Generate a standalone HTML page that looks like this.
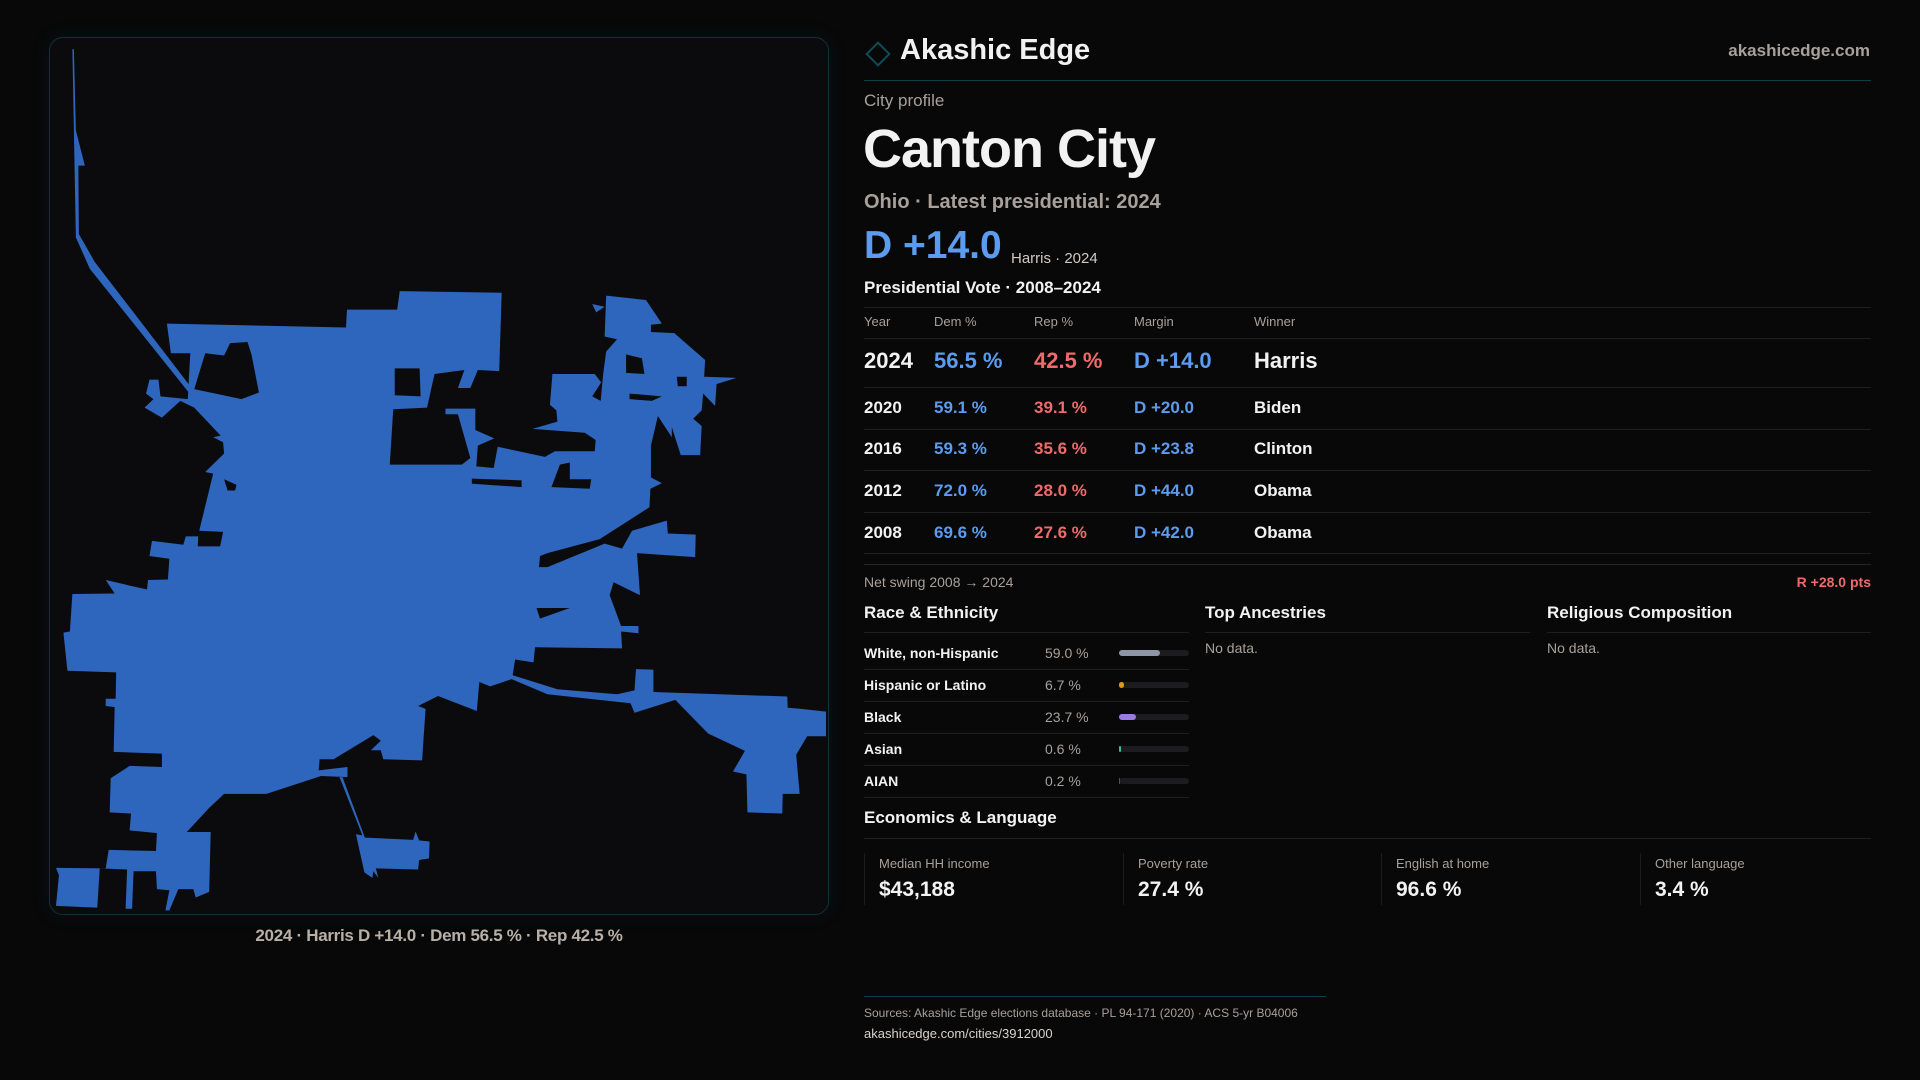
<!DOCTYPE html>
<html><head><meta charset="utf-8">
<style>
*{margin:0;padding:0;box-sizing:border-box}
body{width:1920px;height:1080px;background:#080808;font-family:"Liberation Sans",sans-serif;color:#f2f2f2;position:relative;overflow:hidden}
.a{position:absolute;white-space:nowrap}
.g{color:#a8a09a}
.b{color:#5b9cf0}
.r{color:#f06a6a}
.ln{position:absolute;height:1px;background:#1f1f22}
</style></head><body>

<div class="a" style="left:49px;top:37px;width:780px;height:878px;border:1px solid #11303a;border-radius:14px;background:#0b0b0d;box-shadow:0 0 18px rgba(20,90,110,0.15);overflow:hidden">
<svg width="780" height="878" viewBox="0 0 1568 1568" preserveAspectRatio="none">
<path fill="#2f66bd" fill-rule="evenodd" d="M235,510 L595,517 L597,485 L698,485 L703,452 L908,455 L903,595 L860,593 L845,625 L820,625 L833,593 L773,600 L758,660 L690,663 L683,762 L828,762 L845,750 L820,672 L795,672 L795,662 L855,662 L855,700 L893,715 L860,728 L857,765 L892,768 L900,730 L995,748 L1015,738 L1095,738 L1097,718 L1075,705 L970,698 L1020,685 L1018,665 L1005,655 L1010,600 L1095,600 L1108,615 L1090,640 L1107,648 L1112,600 L1118,560 L1140,538 L1115,533 L1118,460 L1198,468 L1230,510 L1208,512 L1208,525 L1255,527 L1317,575 L1315,605 L1380,607 L1340,618 L1337,657 L1313,635 L1310,665 L1293,680 L1310,693 L1307,745 L1268,745 L1250,695 L1250,713 L1222,675 L1208,728 L1208,785 L1230,795 L1207,805 L1205,838 L1105,895 L1000,920 L985,925 L983,945 L1000,945 L1115,903 L1150,912 L1170,880 L1240,862 L1242,885 L1298,887 L1297,927 L1180,920 L1186,995 L1133,972 L1125,995 L1148,1050 L1183,1050 L1183,1063 L1148,1060 L1150,1090 L975,1088 L972,1115 L935,1110 L930,1138 L1020,1163 L1140,1172 L1175,1165 L1178,1127 L1213,1128 L1213,1168 L1482,1176 L1483,1196 L1510,1198 L1560,1203 L1560,1247 L1522,1247 L1500,1280 L1507,1350 L1473,1350 L1472,1385 L1402,1383 L1400,1315 L1373,1310 L1397,1273 L1323,1242 L1257,1182 L1175,1205 L1167,1188 L1000,1172 L928,1145 L885,1158 L863,1150 L858,1202 L780,1175 L740,1193 L755,1198 L748,1290 L670,1288 L665,1272 L645,1272 L665,1255 L650,1245 L570,1288 L542,1288 L540,1308 L598,1302 L598,1320 L545,1318 L435,1350 L350,1350 L320,1375 L275,1418 L323,1418 L320,1525 L293,1535 L288,1520 L258,1520 L240,1558 L232,1558 L240,1522 L215,1520 L213,1488 L168,1488 L165,1555 L152,1555 L155,1485 L100,1483 L95,1553 L12,1550 L18,1495 L12,1482 L112,1483 L118,1450 L213,1452 L215,1420 L160,1415 L163,1385 L120,1383 L122,1322 L160,1300 L225,1302 L225,1278 L128,1275 L130,1195 L112,1193 L112,1180 L132,1180 L133,1133 L35,1130 L27,1062 L40,1060 L45,993 L130,992 L112,968 L195,985 L197,968 L237,967 L240,930 L200,925 L205,898 L268,905 L273,890 L298,890 L297,908 L342,908 L348,882 L300,880 L328,778 L312,775 L350,742 L348,722 L328,713 L343,710 L290,660 L262,648 L225,678 L190,660 L208,645 L193,635 L200,610 L218,610 L222,640 L277,645 L282,563 L243,563 Z
M290,627 L312,563 L350,567 L362,545 L397,543 L405,565 L420,633 L385,645 Z
M693,590 L743,590 L745,640 L693,638 Z
M1260,605 L1280,605 L1280,622 L1262,622 Z
M1158,565 L1190,572 L1195,600 L1158,598 Z
M350,788 L375,798 L372,808 L357,808 Z
M848,787 L948,790 L948,802 L848,796 Z
M1008,802 L1025,762 L1045,758 L1045,788 L1088,788 L1085,805 Z
M978,1018 L1045,1018 L985,1037 Z
M1165,635 L1230,640 L1210,648 L1165,645 Z"/>
<path fill="#2f66bd" d="M45,20 L48,20 L52,165 L70,228 L57,228 L58,350 L90,400 L282,622 L278,632 L80,412 L52,356 Z"/>
<path fill="#2f66bd" d="M582,1320 L588,1320 L633,1428 L730,1432 L735,1417 L742,1433 L763,1435 L762,1465 L742,1468 L740,1485 L655,1483 L660,1500 L650,1488 L648,1500 L632,1490 L615,1422 L628,1424 Z"/>
<path fill="#2f66bd" d="M1090,475 L1115,480 L1098,490 Z"/>
</svg>
</div>
<div class="a" style="left:49px;width:780px;top:926px;text-align:center;font-size:17px;color:#b8b0a8;font-weight:bold;letter-spacing:-0.3px">2024 · Harris D +14.0 · Dem 56.5 % · Rep 42.5 %</div>

<div class="a" style="left:869px;top:45px;width:18px;height:18px;border:2px solid #0e4c58;transform:rotate(45deg)"></div>
<div class="a" style="left:900px;top:32px;font-size:29px;font-weight:bold;line-height:36px">Akashic Edge</div>
<div class="a g" style="right:50px;top:40px;font-size:17px;font-weight:bold;line-height:22px">akashicedge.com</div>
<div class="ln" style="left:864px;top:80px;width:1007px;background:#0d3f48"></div>

<div class="a g" style="left:864px;top:90px;font-size:17px;line-height:22px">City profile</div>
<div class="a" style="left:863px;top:117px;font-size:54px;font-weight:bold;line-height:64px;letter-spacing:-1px">Canton City</div>
<div class="a g" style="left:864px;top:190px;font-size:20px;font-weight:bold;line-height:24px">Ohio · Latest presidential: 2024</div>
<div class="a b" style="left:864px;top:223px;font-size:39px;font-weight:bold;line-height:46px">D +14.0</div>
<div class="a" style="left:1011px;top:250px;font-size:15px;line-height:18px;color:#cfc9c4">Harris · 2024</div>
<div class="a" style="left:864px;top:277px;font-size:17px;font-weight:bold;line-height:22px">Presidential Vote · 2008–2024</div>

<div class="ln" style="left:864px;top:307px;width:1007px"></div>
<div class="a g" style="left:864px;top:314px;font-size:13px;line-height:16px">Year</div>
<div class="a g" style="left:934px;top:314px;font-size:13px;line-height:16px">Dem %</div>
<div class="a g" style="left:1034px;top:314px;font-size:13px;line-height:16px">Rep %</div>
<div class="a g" style="left:1134px;top:314px;font-size:13px;line-height:16px">Margin</div>
<div class="a g" style="left:1254px;top:314px;font-size:13px;line-height:16px">Winner</div>
<div class="ln" style="left:864px;top:338px;width:1007px"></div>

<div id="rows"></div>

<div class="ln" style="left:864px;top:564px;width:1007px;background:#26262a"></div>
<div class="a g" style="left:864px;top:573px;font-size:14px;line-height:18px">Net swing 2008 → 2024</div>
<div class="a r" style="right:49px;top:573px;font-size:14px;line-height:18px;font-weight:bold">R +28.0 pts</div>

<div class="a" style="left:864px;top:602px;font-size:17px;font-weight:bold;line-height:22px">Race &amp; Ethnicity</div>
<div class="a" style="left:1205px;top:602px;font-size:17px;font-weight:bold;line-height:22px">Top Ancestries</div>
<div class="a" style="left:1547px;top:602px;font-size:17px;font-weight:bold;line-height:22px">Religious Composition</div>
<div class="ln" style="left:864px;top:632px;width:325px"></div>
<div class="ln" style="left:1205px;top:632px;width:325px"></div>
<div class="ln" style="left:1547px;top:632px;width:324px"></div>
<div class="a g" style="left:1205px;top:639px;font-size:14px;line-height:18px">No data.</div>
<div class="a g" style="left:1547px;top:639px;font-size:14px;line-height:18px">No data.</div>
<div id="race"></div>

<div class="a" style="left:864px;top:807px;font-size:17px;font-weight:bold;line-height:22px">Economics &amp; Language</div>
<div class="ln" style="left:864px;top:838px;width:1007px"></div>
<div id="cards"></div>

<div class="ln" style="left:864px;top:996px;width:462px;background:#0d3f48"></div>
<div class="a g" style="left:864px;top:1005px;font-size:12px;line-height:16px">Sources: Akashic Edge elections database · PL 94-171 (2020) · ACS 5-yr B04006</div>
<div class="a" style="left:864px;top:1025px;font-size:13px;line-height:17px;color:#d8d2cc">akashicedge.com/cities/3912000</div>

<script>
const years=["2024","2020","2016","2012","2008"];
const demPct=[56.5,59.1,59.3,72.0,69.6];
const repPct=[42.5,39.1,35.6,28.0,27.6];
const margins=[14.0,20.0,23.8,44.0,42.0];
const winners=["Harris","Biden","Clinton","Obama","Obama"];
const raceLabels=["White, non-Hispanic","Hispanic or Latino","Black","Asian","AIAN"];
const raceValues=[59.0,6.7,23.7,0.6,0.2];
const raceColors=["#8d96a6","#e09a1a","#9a7be0","#2fc0a0","#555"];
const econLabels=["Median HH income","Poverty rate","English at home","Other language"];
const econValues=["$43,188","27.4 %","96.6 %","3.4 %"];

function mk(parent,css,txt,cls){const d=document.createElement('div');d.className='a '+(cls||'');d.style.cssText=css;if(txt!==undefined)d.textContent=txt;parent.appendChild(d);return d;}
const rows=document.getElementById('rows');
years.forEach((y,i)=>{
  const big=i===0;
  const cy=big?361:[408,449,491,533][i-1];
  const fs=big?22:17, lh=26, t=cy-lh/2;
  const base=`top:${t}px;font-size:${fs}px;line-height:${lh}px;font-weight:bold;`;
  const m=margins[i];
  let e;
  e=mk(rows,base+'left:864px;',y);
  e=mk(rows,base+'left:934px;',demPct[i].toFixed(1)+' %','b');
  e=mk(rows,base+'left:1034px;',repPct[i].toFixed(1)+' %','r');
  e=mk(rows,base+'left:1134px;',(m>=0?'D +':'R +')+Math.abs(m).toFixed(1),'b');
  e=mk(rows,base+'left:1254px;',winners[i]);
  const ly=big?387:[429,470,512,553][i-1];
  e=mk(rows,`left:864px;top:${ly}px;width:1007px;height:1px;background:#1f1f22`);
});
const race=document.getElementById('race');
const trackW=70;
raceLabels.forEach((l,i)=>{
  const cy=653+i*32;
  const base=`top:${cy-9}px;font-size:14px;line-height:18px;`;
  let e=mk(race,base+'left:864px;font-weight:bold;',l);
  e=mk(race,base+'left:1045px;',raceValues[i].toFixed(1)+' %','g');
  e=mk(race,`left:1119px;top:${cy-3}px;width:${trackW}px;height:6px;border-radius:3px;background:#1c1c1f`);
  const w=Math.max(raceValues[i]/100*trackW,raceValues[i]>=0.5?1.5:0);
  e=mk(race,`left:1119px;top:${cy-3}px;width:${w}px;height:6px;border-radius:3px;background:${raceColors[i]}`);
  e=mk(race,`left:864px;top:${cy+16}px;width:325px;height:1px;background:#1f1f22`);
});
const cards=document.getElementById('cards');
econLabels.forEach((l,i)=>{
  const x=[864,1123,1381,1640][i];
  let e=mk(cards,`left:${x}px;top:853px;width:1px;height:52px;background:#1c1c1f`);
  e=mk(cards,`left:${x+15}px;top:855px;font-size:13px;line-height:17px`,l,'g');
  e=mk(cards,`left:${x+15}px;top:877px;font-size:21px;line-height:26px;font-weight:bold`,econValues[i]);
});
</script>
</body></html>
